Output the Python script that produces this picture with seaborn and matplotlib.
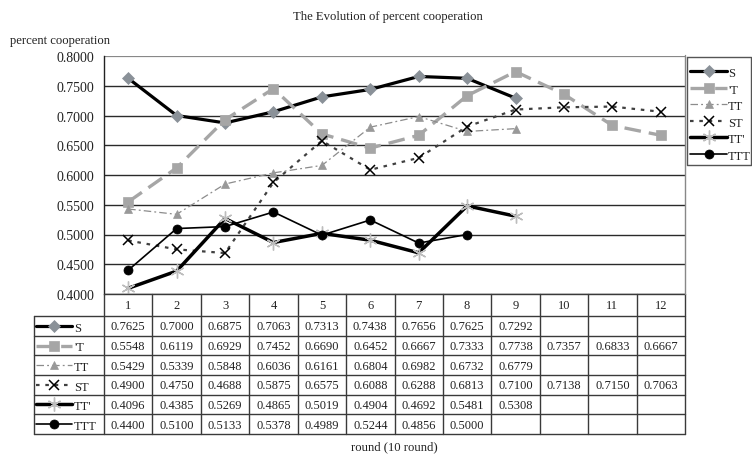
import numpy as np
import pandas as pd
import matplotlib
matplotlib.use("Agg")
import matplotlib.pyplot as plt
import seaborn as sns
from matplotlib.lines import Line2D

rounds = list(range(1, 13))
series_names = ["S", "'T", "TT", "ST", "TT'", "TTT"]
s_vals = [0.7625, 0.7000, 0.6875, 0.7063, 0.7313, 0.7438, 0.7656, 0.7625, 0.7292, None, None, None]
t_vals = [0.5548, 0.6119, 0.6929, 0.7452, 0.6690, 0.6452, 0.6667, 0.7333, 0.7738, 0.7357, 0.6833, 0.6667]
tt_vals = [0.5429, 0.5339, 0.5848, 0.6036, 0.6161, 0.6804, 0.6982, 0.6732, 0.6779, None, None, None]
st_vals = [0.4900, 0.4750, 0.4688, 0.5875, 0.6575, 0.6088, 0.6288, 0.6813, 0.7100, 0.7138, 0.7150, 0.7063]
ttp_vals = [0.4096, 0.4385, 0.5269, 0.4865, 0.5019, 0.4904, 0.4692, 0.5481, 0.5308, None, None, None]
ttt_vals = [0.4400, 0.5100, 0.5133, 0.5378, 0.4989, 0.5244, 0.4856, 0.5000, None, None, None, None]
y_ticks = [0.40, 0.45, 0.50, 0.55, 0.60, 0.65, 0.70, 0.75, 0.80]

title = "The Evolution of percent cooperation"
y_label = "percent cooperation"
x_label = "round (10 round)"

all_vals = [s_vals, t_vals, tt_vals, st_vals, ttp_vals, ttt_vals]

styles = [
    dict(color="black", lw=2.3, ls="-", marker="D", ms=6.3, mfc="#8a9198", mec="#8a9198", mew=0.5),
    dict(color="#a6a6a6", lw=2.4, ls=(0, (5, 2.4)), marker="s", ms=7.5, mfc="#a6a6a6", mec="#a6a6a6", mew=0.5),
    dict(color="#8c8c8c", lw=0.9, ls=(0, (6, 2.5, 1.5, 2.5)), marker="^", ms=6, mfc="#999999", mec="#999999", mew=0.5),
    dict(color="#404040", lw=1.6, ls=(0, (1.6, 2.6)), marker="x", ms=7, mfc="black", mec="black", mew=1.1),
    dict(color="black", lw=2.5, ls="-", marker=(6, 2, 0), ms=10, mfc="#bdbdbd", mec="#bdbdbd", mew=1.0),
    dict(color="black", lw=1.2, ls="-", marker="o", ms=6.5, mfc="black", mec="black", mew=0.5),
]

W, H = 752, 456
sns.set_style("white")
plt.rcParams["font.family"] = ["Liberation Serif", "DejaVu Serif"]
fig = plt.figure(figsize=(W / 100, H / 100), dpi=100)

# plot area in pixel coordinates
L, R, T, B = 104, 685, 57, 295
ax = fig.add_axes([L / W, 1 - B / H, (R - L) / W, (B - T) / H])

for name, vals, st in zip(series_names, all_vals, styles):
    df = pd.DataFrame({"round": rounds, "value": vals}).dropna()
    sns.lineplot(data=df, x="round", y="value", ax=ax, color=st["color"],
                 linewidth=st["lw"], linestyle=st["ls"], marker=st["marker"],
                 markersize=st["ms"], markerfacecolor=st["mfc"],
                 markeredgecolor=st["mec"], markeredgewidth=st["mew"],
                 legend=False, zorder=3)

ax.set_xlim(0.5, 12.5)
ax.set_ylim(0.4, 0.8)
ax.set_yticks(y_ticks)
ax.set_yticklabels([f"{v:.4f}" for v in y_ticks], fontsize=10, color="#222222")
ax.set_xticks([])
ax.set_xlabel("")
ax.set_ylabel("")
ax.tick_params(axis="y", length=0, pad=7)
for v in y_ticks:
    ax.axhline(v, color="#2a2a2a" if v < 0.8 else "#888888", lw=1.0 if v < 0.8 else 1.6, zorder=1)
for side in ["top", "right", "bottom"]:
    ax.spines[side].set_visible(False)
ax.spines["left"].set_color("#222222")
ax.spines["left"].set_linewidth(1.0)
ax.patch.set_alpha(0)

# overlay axes in pixel coordinates for table, legend and texts
ov = fig.add_axes([0, 0, 1, 1])
ov.set_xlim(0, W)
ov.set_ylim(H, 0)
ov.axis("off")
ov.patch.set_alpha(0)

ov.text(388, 17, title, ha="center", va="center", fontsize=9.1, color="#222222")
ov.text(10, 41, y_label, ha="left", va="center", fontsize=9.1, color="#222222")
ov.text(394, 447, x_label, ha="center", va="center", fontsize=9.1, color="#222222")

# table
ncol = 12
cw = (R - L) / ncol
hdr_top, hdr_bot = 295, 317
rh = (435 - 317) / 6
tab_left = 34
gc = "#3a3a3a"
row_bot = hdr_bot + 6 * rh
ov.plot([L, R], [hdr_top, hdr_top], color=gc, lw=1.0)
ov.plot([tab_left, R], [hdr_bot, hdr_bot], color=gc, lw=1.0)
for i in range(1, 7):
    y = hdr_bot + i * rh
    ov.plot([tab_left, R], [y, y], color=gc, lw=1.0)
ov.plot([tab_left, tab_left], [hdr_bot, row_bot], color=gc, lw=1.0)
for k in range(ncol + 1):
    x = L + k * cw
    ov.plot([x, x], [hdr_top, row_bot], color=gc, lw=1.0)
ov.plot([R, R], [T - 1, hdr_top], color="#888888", lw=1.0)

for k, r in enumerate(rounds):
    ov.text(L + (k + 0.5) * cw, (hdr_top + hdr_bot) / 2 + 0.5, str(r), ha="center",
            va="center", fontsize=9, color="#222222")
for i, (name, vals, st) in enumerate(zip(series_names, all_vals, styles)):
    yc = hdr_bot + (i + 0.5) * rh
    for k, v in enumerate(vals):
        if v is not None:
            ov.text(L + (k + 0.5) * cw, yc + 0.5, f"{v:.4f}", ha="center", va="center",
                    fontsize=9, color="#222222")
    ov.add_line(Line2D([36, 72], [yc, yc], color=st["color"], lw=st["lw"], ls=st["ls"]))
    ov.add_line(Line2D([54], [yc], marker=st["marker"], ms=st["ms"], mfc=st["mfc"],
                       mec=st["mec"], mew=st["mew"], ls="none"))
    ov.text(74, yc + 2, name, ha="left", va="center", fontsize=9, color="#222222")

# right legend
lg_left, lg_top, lg_bot = 687, 58, 166
ov.plot([lg_left, 751, 751, lg_left, lg_left], [lg_top, lg_top, lg_bot, lg_bot, lg_top],
        color="#555555", lw=1.0)
for i, (name, st) in enumerate(zip(series_names, styles)):
    yc = 72 + i * 16.6
    ov.add_line(Line2D([690, 727], [yc, yc], color=st["color"], lw=st["lw"], ls=st["ls"]))
    ov.add_line(Line2D([708.5], [yc], marker=st["marker"], ms=st["ms"], mfc=st["mfc"],
                       mec=st["mec"], mew=st["mew"], ls="none"))
    ov.text(728, yc + 2, name, ha="left", va="center", fontsize=9, color="#222222")

fig.savefig("out.png", dpi=100)
